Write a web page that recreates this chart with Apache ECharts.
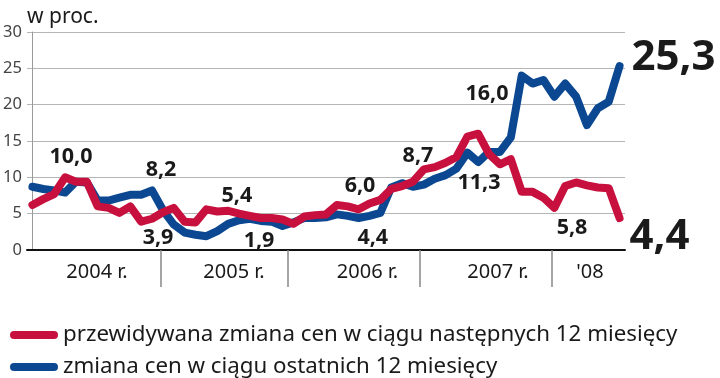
<!DOCTYPE html>
<html><head><meta charset="utf-8">
<script src="https://cdn.jsdelivr.net/npm/echarts@6/dist/echarts.min.js"></script>
<style>html,body{margin:0;padding:0;background:#fff}#c{width:720px;height:378px}</style>
</head><body><div id="c"></div>
<script>
// monthly observations, I 2004 – VII 2008
const months = [];
for (let y = 2004; y <= 2008; y++) for (let m = 1; m <= 12; m++) if (y < 2008 || m <= 7) months.push(y + '-' + String(m).padStart(2, '0'));

// przewidywana zmiana cen w ciągu następnych 12 miesięcy (red)
const expected = [6.2, 7.0, 7.7, 10.0, 9.4, 9.4, 6.0, 5.8, 5.1, 6.0, 3.9, 4.3,
  5.2, 5.8, 3.9, 3.8, 5.6, 5.3, 5.4, 5.0, 4.7, 4.4, 4.4, 4.2,
  3.6, 4.6, 4.8, 4.9, 6.2, 6.0, 5.6, 6.4, 6.9, 8.4, 8.8, 9.4,
  11.1, 11.4, 12.0, 12.8, 15.6, 16.0, 13.2, 11.8, 12.5, 8.0, 8.0, 7.2,
  5.8, 8.8, 9.3, 8.9, 8.6, 8.5, 4.4];
// zmiana cen w ciągu ostatnich 12 miesięcy (blue)
const past = [8.7, 8.4, 8.2, 7.9, 9.4, 9.3, 6.8, 6.8, 7.2, 7.6, 7.6, 8.2,
  5.5, 3.5, 2.4, 2.1, 1.9, 2.6, 3.6, 4.1, 4.3, 4.0, 3.9, 3.3,
  3.8, 4.4, 4.4, 4.5, 4.9, 4.7, 4.4, 4.7, 5.1, 8.6, 9.2, 8.7,
  9.0, 9.8, 10.3, 11.2, 13.4, 12.1, 13.5, 13.5, 15.5, 24.0, 22.9, 23.4,
  21.1, 22.9, 21.1, 17.2, 19.5, 20.4, 25.3];

const yearLabels = ['2004 r.', '2005 r.', '2006 r.', '2007 r.', "'08"];
const yTicks = [0, 5, 10, 15, 20, 25, 30];
const seriesNames = ['przewidywana zmiana cen w ciągu następnych 12 miesięcy', 'zmiana cen w ciągu ostatnich 12 miesięcy'];
const unitLabel = 'w proc.';

const RED = '#c8103e', BLUE = '#0b4891', FONT = 'Noto Sans';
const yearLabelAt = [5.94, 18.54, 30.82, 42.82, 51.28];
const yearSepAt = [11.82, 23.5, 35.64, 47.78];

const chart = echarts.init(document.getElementById('c'), null, { renderer: 'canvas' });
const small = (text, x, y) => ({ coord: [x, y], value: text });
const legendBase = {
  orient: 'vertical', left: 5, itemWidth: 48, itemHeight: 8,
  icon: 'path://M4,0L44,0A4,4,0,0,1,44,8L4,8A4,4,0,0,1,4,0Z',
  textStyle: { fontSize: 22.3, lineHeight: 26, color: '#1a1a1a', fontFamily: FONT }
};
chart.setOption({
  animation: false,
  textStyle: { fontFamily: FONT },
  title: { text: unitLabel, left: 22, top: 2, textStyle: { fontFamily: FONT, fontSize: 21, fontWeight: 'normal', color: '#1a1a1a' } },
  grid: { left: 27, right: 95, top: 32, bottom: 128 },
  xAxis: {
    type: 'value', min: -0.5, max: 54.5,
    axisLine: { show: true, lineStyle: { color: '#111', width: 2 } },
    splitLine: { show: false },
    axisTick: { show: true, customValues: yearSepAt, length: 37, lineStyle: { color: '#888', width: 1.5 } },
    axisLabel: {
      show: true, customValues: yearLabelAt, margin: 12, fontSize: 20, color: '#1a1a1a', fontFamily: FONT,
      formatter: v => { let b = 0; yearLabelAt.forEach((p, i) => { if (Math.abs(p - v) < Math.abs(yearLabelAt[b] - v)) b = i; }); return yearLabels[b]; }
    }
  },
  yAxis: {
    type: 'value', min: yTicks[0], max: yTicks[yTicks.length - 1], interval: 5,
    axisLine: { show: true, lineStyle: { color: '#999', width: 1 } },
    axisTick: { show: false },
    splitLine: { lineStyle: { color: '#b5b5b5', width: 1 } },
    axisLabel: { fontSize: 16.5, color: '#444', margin: 5, fontFamily: FONT }
  },
  legend: [
    Object.assign({}, legendBase, { top: 317, data: [seriesNames[0]] }),
    Object.assign({}, legendBase, { top: 349, data: [seriesNames[1]] })
  ],
  series: [
    {
      name: seriesNames[1], type: 'line', showSymbol: false, color: BLUE,
      data: past.map((v, i) => [i, v]),
      lineStyle: { width: 8, color: BLUE, cap: 'round', join: 'round' },
      markPoint: {
        symbol: 'circle', symbolSize: 1, itemStyle: { color: 'rgba(0,0,0,0)' },
        label: { show: true, position: 'inside', formatter: p => p.value, fontFamily: FONT, fontWeight: 'bold', fontSize: 42, color: '#1a1a1a' },
        data: [{ coord: [54, past[54]], value: '25,3', label: { offset: [54, -8] } }]
      }
    },
    {
      name: seriesNames[0], type: 'line', showSymbol: false, color: RED,
      data: expected.map((v, i) => [i, v]),
      lineStyle: { width: 8, color: RED, cap: 'round', join: 'round' },
      markPoint: {
        symbol: 'circle', symbolSize: 1, itemStyle: { color: 'rgba(0,0,0,0)' },
        label: { show: true, position: 'inside', formatter: p => p.value, fontFamily: FONT, fontWeight: 'bold', fontSize: 21.5, color: '#1a1a1a' },
        data: [
          small('10,0', 3.55, 12.8), small('8,2', 11.83, 11.0), small('3,9', 11.55, 1.65),
          small('5,4', 18.8, 7.43), small('1,9', 20.84, 1.24), small('6,0', 30.13, 8.8),
          small('4,4', 31.3, 1.65), small('8,7', 35.46, 12.94), small('16,0', 41.8, 21.47),
          small('11,3', 41.07, 9.22), small('5,8', 49.63, 3.03),
          { coord: [54, expected[54]], value: '4,4', label: { offset: [40, 19], fontSize: 42 } }
        ]
      }
    }
  ]
});
</script></body></html>
